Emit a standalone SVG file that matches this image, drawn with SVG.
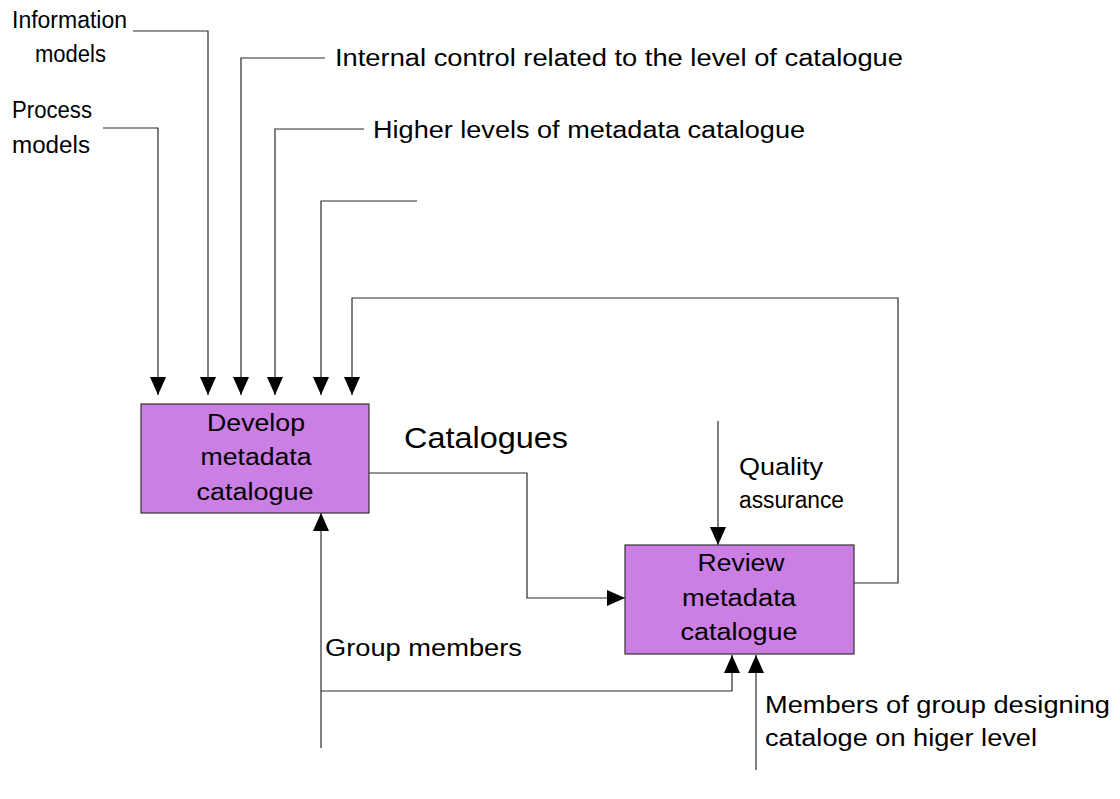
<svg xmlns="http://www.w3.org/2000/svg" width="1120" height="799" viewBox="0 0 1120 799">
  <style>
    .bg { fill: #ffffff; }
    .box { fill: #cb7ee3; stroke: #333333; stroke-width: 1.2; }
    .wire { fill: none; stroke: #2a2a2a; stroke-width: 1.2; }
    .lbl { font-family: "Liberation Sans", Arial, sans-serif; font-size: 23.5px; fill: #000000; }
    .big { font-size: 29px; }
    .mid { text-anchor: middle; }
  </style>
  <defs>
    <marker id="arrow" viewBox="0 0 18 16" refX="18" refY="8" markerWidth="18" markerHeight="16" markerUnits="userSpaceOnUse" orient="auto">
      <path d="M0,0 L18,8 L0,16 Z" fill="#000000"/>
    </marker>
  </defs>

  <rect class="bg" x="0" y="0" width="1120" height="799"/>

  <!-- connectors -->
  <g id="connectors">
    <path class="wire" d="M133,31 H208 V395" marker-end="url(#arrow)"/>
    <path class="wire" d="M103,128 H158 V395" marker-end="url(#arrow)"/>
    <path class="wire" d="M325,58 H241 V395" marker-end="url(#arrow)"/>
    <path class="wire" d="M364,129 H275 V395" marker-end="url(#arrow)"/>
    <path class="wire" d="M417,201 H321 V395" marker-end="url(#arrow)"/>
    <path class="wire" d="M854,583 H898 V298 H352 V395" marker-end="url(#arrow)"/>
    <path class="wire" d="M369,473 H527 V598 H625" marker-end="url(#arrow)"/>
    <path class="wire" d="M718,421 V545" marker-end="url(#arrow)"/>
    <path class="wire" d="M321,748 V513" marker-end="url(#arrow)"/>
    <path class="wire" d="M321,691 H732 V655" marker-end="url(#arrow)"/>
    <path class="wire" d="M756,770 V655" marker-end="url(#arrow)"/>
  </g>

  <!-- process boxes -->
  <g id="develop">
    <rect class="box" x="141" y="404" width="228" height="109"/>
    <text class="lbl mid" x="256" y="431" textLength="98" lengthAdjust="spacingAndGlyphs">Develop</text>
    <text class="lbl mid" x="256" y="465" textLength="111" lengthAdjust="spacingAndGlyphs">metadata</text>
    <text class="lbl mid" x="255" y="500" textLength="117" lengthAdjust="spacingAndGlyphs">catalogue</text>
  </g>

  <g id="review">
    <rect class="box" x="625" y="545" width="229" height="109"/>
    <text class="lbl mid" x="741" y="571" textLength="87" lengthAdjust="spacingAndGlyphs">Review</text>
    <text class="lbl mid" x="739" y="606" textLength="114" lengthAdjust="spacingAndGlyphs">metadata</text>
    <text class="lbl mid" x="739" y="640" textLength="117" lengthAdjust="spacingAndGlyphs">catalogue</text>
  </g>

  <!-- connector labels -->
  <g id="labels">
    <text class="lbl" x="12" y="28" textLength="115" lengthAdjust="spacingAndGlyphs">Information</text>
    <text class="lbl" x="35" y="62" textLength="71" lengthAdjust="spacingAndGlyphs">models</text>
    <text class="lbl" x="12" y="118" textLength="80" lengthAdjust="spacingAndGlyphs">Process</text>
    <text class="lbl" x="12" y="153" textLength="78" lengthAdjust="spacingAndGlyphs">models</text>
    <text class="lbl" x="335" y="66" textLength="568" lengthAdjust="spacingAndGlyphs">Internal control related to the level of catalogue</text>
    <text class="lbl" x="373" y="138" textLength="432" lengthAdjust="spacingAndGlyphs">Higher levels of metadata catalogue</text>
    <text class="lbl big" x="404" y="448" textLength="164" lengthAdjust="spacingAndGlyphs">Catalogues</text>
    <text class="lbl" x="739" y="475" textLength="84" lengthAdjust="spacingAndGlyphs">Quality</text>
    <text class="lbl" x="739" y="508" textLength="105" lengthAdjust="spacingAndGlyphs">assurance</text>
    <text class="lbl" x="325" y="656" textLength="197" lengthAdjust="spacingAndGlyphs">Group members</text>
    <text class="lbl" x="765" y="713" textLength="345" lengthAdjust="spacingAndGlyphs">Members of group designing</text>
    <text class="lbl" x="765" y="746" textLength="272" lengthAdjust="spacingAndGlyphs">cataloge on higer level</text>
  </g>
</svg>
